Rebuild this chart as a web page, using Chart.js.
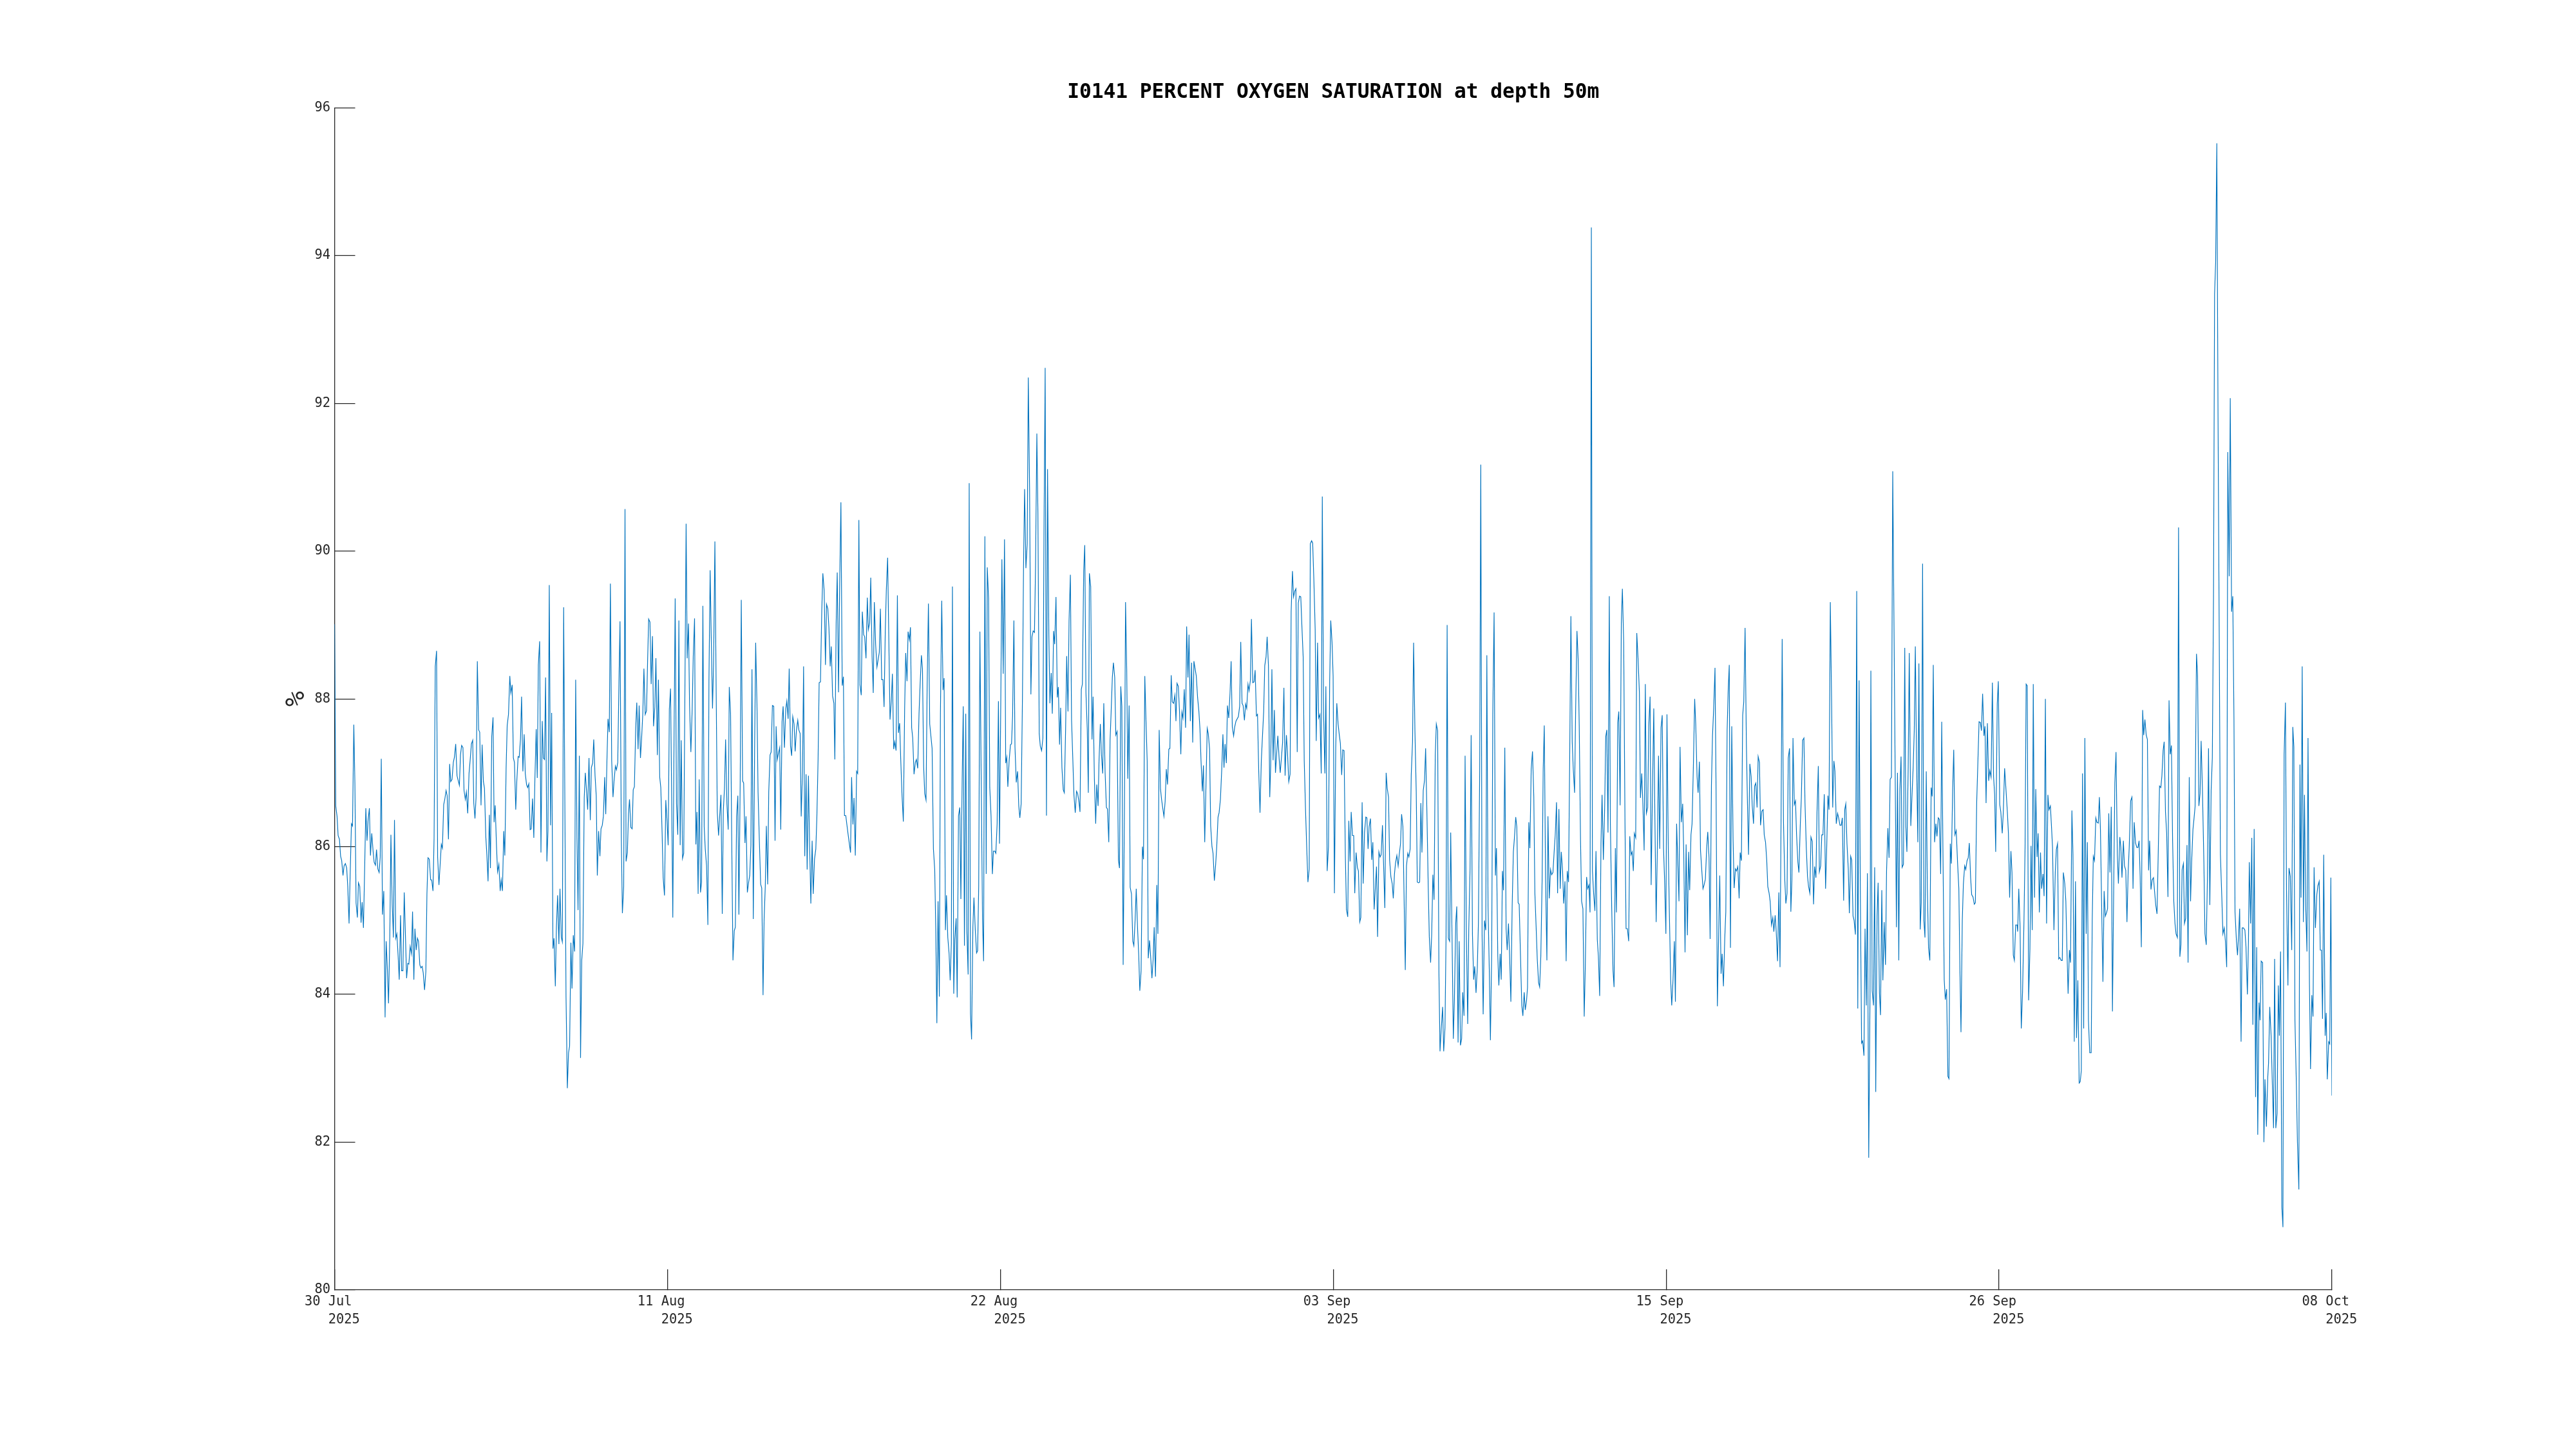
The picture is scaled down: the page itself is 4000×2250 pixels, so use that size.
<!DOCTYPE html>
<html>
<head>
<meta charset="utf-8">
<title>I0141 PERCENT OXYGEN SATURATION at depth 50m</title>
<script src="https://cdn.jsdelivr.net/npm/chart.js@4/dist/chart.umd.min.js"></script>
<style>
  html, body { margin: 0; background: #fff; }
  canvas { display: block; }
</style>
</head>
<body>
<canvas id="oxygenChart" width="4000" height="2250"></canvas>
<script>
// Hours since 30 Jul 2025 and oxygen saturation (%) in blocks
const hours1 = [0,1,2.1,3,4.1,5.1,6,7.1,8,9.1,10.2,11.1,12.2,13.1,14.2,15.1,16.2,17.1,18.1,19.2,20.1,21.2,22.3,23.2,24.3,25.2,26.3,27.3,28.2,29.3,30.2,31.3,32.4,33.3,34.4,35.3,36.4,37.5,38.4,39.3,
  40.3,41.4,42.5,43.4,44.5,45.4,46.5,47.4,48.5,49.5,50.4,51.5,52.4,53.5,54.4,55.5,56.4,57.5,58.6,59.6,60.6,61.6,62.5,63.6,64.7,65.6,66.7,67.6,68.7,69.7,70.6,71.7,72.6,73.7,74.6,75.7,76.8,77.7,78.6,79.7,
  80.8,81.7,82.8,83.7,84.7,85.8,86.7,87.8,89.8,90.7,91.8,92.7,93.8,94.7,95.8,96.8,97.7,98.8,99.9,100.8,101.9,103,103.9,105,105.9,106.9,108,108.9,110,110.9,112,113.1,114,115.1,116.2,117.1,118.1,119,120.1,121.2,
  122.1,123.2,124.1,125.2,126.1,127.2,128.1,129.1,130.2,131.1,132.2,133.3,134.2,135.1,136.2,137.1,138.2,139.3,140.2,141.2,142.3,143.2,144.3,145.2,146.3,147.4,148.3,149.4,150.4,151.3,152.4,153.3,154.4,155.3,156.4,157.3,158.4,159.5,160.4,161.5,
  162.4,163.4,164.5,165.4,166.5,167.6,168.5,169.6,170.5,171.4,172.5,173.6,174.7,175.6,176.6,177.5,178.6,179.5,180.6,181.7,182.6,183.7,184.6,185.7,186.6,187.6,188.7,189.6,190.7,191.6,192.7,193.8,194.7,195.8,196.8,197.7,198.8,199.7,200.8,201.9,
  202.8,203.9,204.8,205.9,206.9,207.9,208.9,210,210.9,212,212.9,214,215.1,216,217.1,218,219.1,220.1,221,222.1,223.2,224.1,225.2,226.1,227.2,228.1,229.1,230,231.1,232,233.1,234.2,235.1,236.2,237.1,238.2,239.2,240.1,241.2,242.1,
  243.2,244.3,245.2,246.3,247.2,248.1,249.2,250.3,251.2,252.2,253.3,254.2,255.3,256.2,257.3,258.4,259.3,260.2,261.3,262.4,263.3,264.2,265.3,266.3,267.4,268.3,269.4,270.3];
const oxygen1 = [89.01,86.55,86.41,86.15,86.10,85.87,85.81,85.61,85.74,85.77,85.71,85.46,84.96,85.61,86.31,86.28,87.65,86.86,85.24,85.04,85.51,85.46,84.97,85.25,84.90,85.61,86.52,86.08,86.36,86.52,85.88,86.18,85.94,85.79,85.75,85.96,85.70,85.65,85.86,87.19,
  85.08,85.40,83.69,84.72,84.31,83.88,84.81,86.16,85.21,84.77,86.36,84.76,84.82,84.51,84.20,85.07,84.32,84.32,85.38,84.81,84.22,84.42,84.41,84.65,84.55,85.12,84.20,84.89,84.60,84.76,84.72,84.40,84.36,84.38,84.29,84.06,84.31,85.36,85.85,85.83,
  85.55,85.55,85.40,86.11,88.44,88.65,85.86,85.48,86.03,85.98,86.57,86.64,86.76,86.69,86.10,87.12,86.88,86.91,87.14,87.21,87.39,86.96,86.90,86.83,87.24,87.37,87.34,86.76,86.64,86.74,86.45,86.99,87.16,87.39,87.44,86.59,86.38,86.66,88.51,87.58,
  87.55,86.56,87.38,86.88,86.79,86.14,85.89,85.53,86.43,85.71,87.49,87.75,86.33,86.56,86.01,85.66,85.76,85.40,85.55,85.40,86.21,85.88,87.06,87.64,87.79,88.31,88.08,88.19,87.20,87.14,86.50,86.89,87.22,87.21,87.46,88.03,87.02,87.52,86.99,86.84,
  86.80,86.85,86.23,86.24,86.65,86.12,86.91,87.59,86.93,88.46,88.78,85.92,87.70,87.20,87.18,88.29,85.80,86.21,89.54,86.29,87.81,84.62,84.76,84.11,84.91,85.34,84.68,85.43,84.77,84.71,89.24,86.36,83.96,82.73,83.21,83.30,84.70,84.08,84.80,84.58,
  88.26,86.11,85.14,87.23,83.14,84.46,84.69,86.66,87.00,86.74,86.50,87.20,86.36,87.07,87.13,87.45,86.96,86.69,85.61,86.21,85.87,86.24,86.29,86.41,86.94,86.44,87.16,87.73,87.55,89.56,87.16,86.67,86.89,87.09,87.04,87.14,88.21,89.05,86.11,85.10,
  85.46,90.57,85.80,85.92,86.44,86.64,86.26,86.24,86.77,86.81,87.61,87.95,87.32,87.91,87.20,87.51,87.81,88.41,87.79,87.84,88.51,89.08,89.04,88.20,88.85,87.63,87.89,88.55];

const hours2 = [271.5,272.4,273.5,274.4,275.5,276.4,277.5,278.6,279.7,280.6,281.6,282.6,283.6,284.5,285.6,286.5,287.6,288.7,289.6,290.7,291.6,292.7,293.7,294.6,295.7,296.6,297.7,298.6,299.7,300.8,301.7,302.8,303.9,304.8,305.8,306.7,307.8,308.7,309.8,310.9,
  311.8,312.9,314,314.9,315.9,316.8,317.9,318.8,319.9,321,321.9,323,323.9,325,326.1,327,328,328.9,330,331.1,332,333.1,334,335.1,336.2,337.1,338.2,339.2,340.1,341.2,342.1,343.2,344.1,345.2,346.1,347.2,348.3,349.2,350.2,351.1,
  352.2,353.3,354.2,355.3,356.2,357.3,358.4,359.3,360.4,361.3,362.3,363.2,364.3,365.2,366.3,367.2,368.3,369.4,370.5,371.4,372.4,373.3,374.4,375.3,376.4,377.3,378.4,379.5,380.4,381.5,382.4,383.5,384.5,385.4,386.5,387.4,388.5,389.6,390.5,391.6,
  392.5,393.6,394.5,395.5,396.6,397.5,398.6,399.5,400.6,401.7,402.6,403.7,404.8,405.7,406.7,407.6,408.7,409.8,410.7,411.8,412.9,413.8,414.9,415.8,416.9,417.8,418.9,420,420.8,421.9,422.8,423.9,424.8,425.9,427,428,428.9,430,430.9,432,
  432.9,434,434.9,436,436.9,438,439.1,440,441,441.9,443,443.9,445,445.9,447,448.1,449,450.1,451,452.1,453.1,454,455.1,456.2,457.1,458.2,459.1,460.2,461.3,462.2,463.2,464.1,465.2,466.3,467.2,468.3,469.2,470.3,471.2,472.3,
  473.4,474.3,475.3,476.2,477.3,478.4,479.5,480.4,481.5,482.4,483.5,484.4,485.4,486.3,487.4,488.5,489.4,490.5,491.6,492.5,493.6,494.5,495.5,496.4,497.5,498.4,499.5,500.6,502.6,503.7,504.8,505.7,506.6,507.6,508.7,509.6,510.7,511.8,512.7,513.8,
  514.7,515.8,516.9,517.8,518.8,519.7,520.8,521.7,522.8,523.7,524.8,525.9,526.8,527.9,528.8,529.8,530.9,531.8,532.9,533.8,534.9,535.8,536.9,537.8,538.9,540,540.9,541.8,542.8,543.9,545,545.9,547,548.1,549,550.1,551.1,552.2];
const oxygen2 = [87.24,88.26,86.94,86.80,86.19,85.58,85.34,86.63,86.33,86.02,87.86,88.14,86.58,85.04,87.58,89.36,86.58,86.16,89.06,86.02,87.44,85.84,85.91,87.91,90.37,88.55,89.02,87.91,87.28,87.86,88.58,89.09,86.03,86.47,85.36,86.91,85.38,85.52,89.26,86.27,
  85.97,85.74,84.94,88.24,89.74,88.86,87.87,88.47,90.13,88.08,86.47,86.15,86.41,86.70,85.09,86.49,86.80,87.45,86.58,86.23,88.16,87.80,86.19,84.46,84.86,84.91,86.41,86.69,85.08,86.91,89.34,86.89,86.86,86.05,86.41,85.38,85.52,85.61,86.02,88.40,
  85.02,87.30,88.76,87.91,86.74,86.08,85.49,85.44,83.99,85.02,85.47,86.28,85.49,86.74,87.24,87.28,87.91,87.90,86.08,87.63,87.18,87.26,87.34,86.23,87.69,87.90,87.34,87.86,87.97,87.73,88.41,87.36,87.23,87.76,87.66,87.29,87.58,87.71,87.58,87.53,
  86.41,87.02,88.44,85.87,86.98,85.69,86.96,86.08,85.23,86.08,85.36,85.83,85.97,86.41,87.19,88.22,88.23,89.19,89.70,89.47,88.46,89.28,89.22,88.97,88.44,88.71,88.04,87.94,87.18,89.02,89.71,88.09,89.47,90.66,88.18,88.30,86.42,86.42,86.30,86.16,
  86.05,85.92,86.94,86.30,86.66,85.88,87.02,86.99,90.42,88.19,88.05,89.18,88.87,88.84,88.55,89.37,88.94,89.03,89.64,88.58,88.08,89.31,88.74,88.43,88.52,88.63,89.22,88.26,88.26,87.89,88.91,89.47,89.91,88.69,87.72,87.97,88.34,87.32,87.42,87.30,
  89.40,87.54,87.67,87.19,86.69,86.34,87.86,88.62,88.24,88.91,88.80,88.97,87.61,87.47,86.98,87.14,87.18,87.06,87.80,88.19,88.59,88.41,87.08,86.72,86.63,88.13,89.29,87.66,87.33,85.97,85.69,84.86,83.61,85.26,83.97,87.80,89.33,88.12,88.28,84.87,
  85.34,84.77,84.55,84.19,84.69,89.52,84.01,84.74,85.03,83.96,86.42,86.53,85.29,86.91,87.90,84.66,87.80,84.88,84.27,90.92,83.74,83.39,84.91,85.31,84.88,84.56,84.59,85.47,88.91,86.91,85.02,84.45,90.20,85.63,89.78,89.36,86.80,86.41];

const hours3 = [553.3,554.2,555.3,556.2,557.3,558.4,559.3,560.4,561.3,562.4,563.5,564.5,565.4,566.3,567.4,568.5,569.4,570.3,571.4,572.3,573.4,574.5,575.5,576.4,577.5,578.6,579.5,580.4,581.5,582.6,583.5,584.6,585.7,586.6,587.6,588.7,589.6,590.7,591.6,592.7,
  593.6,594.7,595.8,596.7,597.7,598.8,599.7,600.8,601.7,602.8,603.7,604.8,605.7,606.8,607.9,608.8,609.8,610.7,611.8,612.9,613.8,614.9,615.8,616.9,617.8,618.9,619.9,621,621.9,623,624.1,625,626.1,627,628.1,629,630.1,631,632,633.1,
  634,634.9,636,637.1,638,639.1,640.2,641.1,642.2,643,644.1,645,646.1,647,648.1,649.2,650.1,651.2,652.3,653.2,654.2,655.1,656.2,657.1,658.2,659.3,660.2,661.3,662.2,663.3,664.4,665.3,666.3,667.2,668.3,669.2,670.3,671.4,672.3,673.4,
  674.3,675.4,676.4,677.3,678.4,679.5,680.4,681.5,682.6,683.5,684.4,685.5,686.6,687.5,688.5,689.4,690.5,691.6,692.5,693.6,694.7,695.6,696.7,697.6,698.6,699.6,700.6,701.7,702.6,703.7,704.6,705.7,706.8,707.7,708.6,709.7,710.7,711.8,712.7,713.6,
  714.7,715.8,716.7,717.8,718.7,719.8,720.9,721.8,722.8,723.7,724.8,725.9,727,727.9,728.8,729.9,730.8,731.9,733,734,734.9,736,736.9,738,738.9,740,741.1,742,743.1,744,745.1,746.2,747.2,748.1,749,750.1,751,752.1,753.2,754.1,
  755.1,756.2,757.1,758.2,760.2,761.3,762.2,763.3,764.2,765.3,766.3,767.2,768.3,769.2,770.3,771.2,772.3,773.4,774.3,775.4,776.3,777.3,778.4,779.5,780.4,781.5,782.4,783.5,784.4,785.5,786.6,787.4,788.4,789.4,790.5,791.4,792.5,793.4,794.5,795.4,
  796.5,797.4,798.5,799.5,800.6,801.5,802.6,803.7,804.6,805.7,806.6,807.7,808.6,809.7,810.6,811.7,812.7,813.6,814.7,815.6,816.7,817.8,818.7,819.8,820.7,821.8,822.7,823.7,824.8,825.7,826.8,827.7,828.8,829.9,830.8,831.9,833,833.8];
const oxygen3 = [85.63,85.94,85.94,85.91,86.31,87.97,86.04,88.02,89.89,88.34,90.16,87.13,87.21,86.81,87.16,87.38,87.39,87.77,89.06,87.35,86.87,87.02,86.55,86.39,86.58,88.02,89.79,90.84,89.77,90.10,92.35,90.83,88.06,88.84,88.92,88.90,89.79,91.59,90.52,87.53,
  87.36,87.30,87.47,90.22,92.48,86.42,91.11,88.87,87.94,88.35,87.80,88.92,88.74,89.38,88.02,88.16,87.38,87.88,87.07,86.77,86.73,87.59,88.58,87.83,89.06,89.68,87.71,87.16,86.70,86.46,86.75,86.72,86.61,86.47,88.13,88.20,89.73,90.08,88.08,87.59,
  86.73,89.70,89.52,87.45,88.03,86.92,86.31,86.84,86.55,87.16,87.66,87.25,86.99,87.94,87.01,86.53,86.51,86.06,87.44,87.83,88.29,88.49,88.29,87.51,87.56,85.82,85.71,88.17,87.90,84.40,86.55,89.31,88.39,86.92,87.91,85.45,85.36,84.72,84.66,85.02,
  85.43,84.90,84.53,84.05,84.32,86.00,85.83,88.31,87.65,87.16,84.49,84.73,84.47,84.22,84.47,84.91,84.24,85.48,84.82,87.58,86.78,86.64,86.51,86.41,86.61,87.05,86.84,87.32,87.33,88.32,87.96,87.94,88.05,87.70,88.21,88.17,87.83,87.25,87.82,87.74,
  88.13,87.61,88.98,88.29,88.87,87.70,88.49,87.41,88.51,88.42,88.31,88.02,87.83,87.59,87.16,86.75,87.10,86.06,86.86,87.60,87.53,87.32,86.28,86.00,85.91,85.54,85.76,86.00,86.40,86.46,86.64,87.04,87.52,87.07,87.39,87.13,87.91,87.74,88.08,88.51,
  87.62,87.50,87.62,87.70,87.76,87.90,88.77,87.94,87.91,87.71,87.93,87.87,88.20,88.11,88.25,89.08,88.22,88.23,88.39,87.77,87.79,87.04,86.46,87.16,87.47,87.83,88.45,88.57,88.84,88.45,86.67,87.10,88.40,87.17,87.85,87.00,87.28,87.50,87.19,87.00,
  87.22,87.41,88.15,86.96,87.51,87.28,86.88,86.98,89.18,89.73,89.38,89.46,89.49,87.28,89.30,89.39,89.38,89.00,88.57,87.16,86.49,85.94,85.52,85.70,90.10,90.14,90.11,89.61,88.94,87.43,88.76,87.74,87.79,86.99,90.74,87.77,86.99,88.17];

const hours4 = [834.9,836,837,837.9,839,839.9,841,842.1,843,844.1,845.1,846,847.1,848,849.1,850.2,851.1,852.2,853.1,854.2,855.1,856.2,857.2,858.1,859.2,860.3,861.2,862.3,863.2,864.3,865.2,866.3,867.4,868.3,869.3,870.2,871.3,872.4,873.3,874.4,
  875.3,876.4,877.3,878.4,879.4,880.3,881.4,882.3,883.4,884.5,885.4,886.5,887.4,888.5,889.6,890.5,891.5,892.4,893.5,894.6,895.5,896.6,897.5,898.6,899.7,900.6,901.6,902.7,903.6,904.7,905.6,906.7,907.6,908.7,909.8,910.7,911.8,912.7,913.7,914.6,
  915.7,916.8,917.7,918.8,919.9,920.8,921.9,922.8,923.8,924.8,925.8,926.7,927.8,928.9,929.8,930.9,932,932.9,934,934.9,935.8,936.8,937.9,938.8,939.9,941,941.9,943,943.9,945,945.9,947,948,948.9,950,950.9,952,953.1,954,955.1,
  956,957.1,958.1,959,960.1,961.2,962.1,963.2,964.1,965.2,966.1,967.2,968.3,969.2,970.2,971.3,972.2,973.3,974.2,975.3,976.4,977.3,978.4,979.3,980.4,981.3,982.3,983.2,984.3,985.4,986.3,987.4,988.3,989.4,990.5,991.5,992.4,993.5,994.4,995.5,
  996.4,997.5,998.6,999.5,1000.6,1001.5,1002.6,1003.4,1004.5,1005.4,1006.5,1007.6,1008.7,1009.6,1010.7,1011.6,1012.7,1013.6,1014.6,1015.7,1016.6,1017.5,1018.6,1019.7,1020.6,1021.7,1022.8,1023.7,1024.8,1025.8,1026.7,1027.8,1028.7,1029.8,1030.9,1031.8,1032.9,1033.8,1034.9,1035.9,
  1036.8,1037.9,1038.8,1039.9,1041,1041.9,1043,1043.9,1045,1046,1046.9,1048,1048.9,1050,1051.1,1052,1053.1,1054,1055.1,1056,1057.1,1058,1059,1060.1,1061,1062.1,1063,1064.1,1065.2,1066.1,1067.2,1068.3,1069.2,1070.1,1071.1,1072.2,1073.1,1074.2,1075.3,1076.2,
  1077.3,1078.2,1079.3,1080.2,1081.3,1082.3,1083.2,1084.3,1085.4,1086.3,1087.4,1088.5,1089.4,1090.5,1091.4,1092.4,1093.3,1094.4,1095.3,1096.4,1097.5,1098.4,1099.5,1100.4,1101.5,1102.5,1103.4,1104.5,1105.4,1106.5,1107.4,1108.5,1109.6,1110.5,1111.6,1112.5,1113.6,1114.6,1115.7];
const oxygen4 = [85.67,86.00,88.24,89.06,88.76,88.31,85.37,87.34,87.94,87.66,87.51,87.40,86.97,87.31,87.30,85.86,85.15,85.05,86.35,85.80,86.47,86.15,86.15,85.37,85.92,85.72,85.67,84.98,85.04,86.60,85.50,86.19,86.40,86.39,85.97,86.27,86.38,85.82,86.06,85.15,
  85.41,85.73,84.78,85.93,85.86,85.89,86.29,85.78,85.17,87.00,86.79,86.67,85.82,85.59,85.50,85.30,85.63,85.78,85.88,85.74,85.89,86.04,86.44,86.27,85.19,84.33,85.74,85.91,85.86,85.97,86.97,87.42,88.76,87.57,86.75,85.52,85.51,85.52,86.59,85.92,
  86.76,86.90,87.33,86.45,85.45,84.78,84.43,84.81,85.62,85.28,87.23,87.66,87.57,84.29,83.23,83.55,83.83,83.23,83.55,84.81,89.00,84.76,84.72,86.19,84.81,83.40,83.92,84.96,85.19,83.35,84.72,83.31,83.40,84.03,83.71,87.23,84.81,83.60,84.89,85.71,
  87.51,84.81,84.20,84.38,84.02,84.37,84.96,87.05,91.17,84.81,83.73,85.00,84.87,88.59,85.19,84.29,83.38,84.59,87.79,89.17,85.61,85.98,84.52,84.12,84.55,84.20,85.67,85.41,87.34,84.89,84.60,84.96,84.55,83.90,85.19,85.93,86.12,86.40,86.27,85.24,
  85.22,84.52,83.85,83.71,84.03,83.79,83.92,84.09,86.33,85.98,87.05,87.29,86.67,85.37,84.89,84.48,84.16,84.10,84.52,85.56,87.05,87.64,85.56,84.46,86.41,85.30,85.69,85.62,85.65,85.93,86.15,86.60,85.37,86.51,85.43,85.93,85.67,85.23,85.53,84.45,
  85.67,85.52,87.05,89.12,87.42,87.05,86.73,87.87,88.92,88.54,87.64,86.08,85.26,85.16,83.70,84.37,85.59,85.43,85.48,85.11,94.38,85.67,85.37,85.13,85.94,84.74,84.52,83.98,86.04,86.70,85.82,86.53,87.49,87.58,86.19,89.39,86.30,85.19,84.33,84.10,
  85.98,85.11,87.68,87.83,86.56,89.02,89.49,88.76,86.30,84.89,84.89,84.72,86.14,85.89,85.93,85.67,86.18,86.12,88.89,88.54,88.09,86.66,86.99,86.60,85.95,88.20,86.45,86.53,87.64,88.03,85.48,86.75,87.87,86.45,84.98,85.86,87.23,85.97,87.61];

const hours5 = [1116.7,1117.8,1118.7,1119.8,1120.7,1121.8,1122.7,1123.8,1124.7,1125.8,1126.9,1127.8,1128.8,1129.7,1130.8,1131.7,1132.8,1133.9,1134.8,1135.9,1136.8,1137.9,1138.9,1139.8,1140.9,1141.8,1142.9,1144,1144.9,1146,1146.9,1148,1148.9,1149.9,1151,1151.9,1153,1154.1,1155,1156.1,
  1157,1158.1,1159,1160,1161.1,1162,1163.1,1164.2,1165.1,1166.2,1167.1,1168.2,1169.3,1170.2,1171.3,1172.2,1173.1,1174.1,1175.2,1176.3,1177.2,1178.3,1179.2,1180.3,1181.4,1182.3,1183.3,1184.4,1185.3,1186.4,1187.5,1188.4,1189.3,1190.4,1191.5,1192.4,1193.5,1194.4,1195.4,1196.5,
  1197.4,1198.5,1199.4,1200.5,1201.6,1202.5,1203.6,1204.6,1205.5,1206.6,1207.5,1208.6,1209.7,1210.6,1211.7,1212.6,1213.7,1214.8,1215.8,1216.7,1217.6,1218.7,1219.8,1220.7,1221.7,1222.7,1223.8,1224.9,1225.8,1226.7,1227.8,1228.8,1229.7,1230.8,1231.7,1232.8,1233.7,1234.8,1235.9,1236.8,
  1237.9,1238.9,1239.8,1240.9,1241.8,1242.9,1244,1244.9,1246,1246.9,1248,1248.9,1250,1250.9,1251.9,1253,1254.1,1255,1256.1,1257,1258.1,1259.2,1260.1,1261.1,1262,1263.1,1264.2,1265.1,1266.2,1267.3,1268.2,1269.3,1270.2,1271.1,1272.1,1273.2,1274.1,1275.2,1276.1,1277.2,
  1278.1,1279.2,1280.3,1281.2,1282.3,1283.4,1284.4,1285.3,1286.4,1287.3,1288.4,1289.3,1290.4,1291.5,1292.2,1293.3,1294.4,1295.4,1296.3,1297.4,1298.3,1299.4,1300.3,1301.4,1302.3,1303.4,1304.5,1305.4,1306.5,1307.5,1308.4,1309.5,1310.6,1311.7,1312.6,1313.7,1314.6,1315.7,1316.6,1317.6,
  1318.5,1319.6,1320.7,1321.6,1322.5,1323.6,1324.5,1325.8,1326.7,1327.8,1328.7,1329.6,1330.6,1331.7,1332.6,1333.7,1334.6,1335.7,1336.8,1337.7,1338.8,1339.7,1340.7,1341.8,1342.9,1343.8,1344.7,1345.8,1346.9,1347.8,1348.9,1349.8,1350.9,1351.8,1352.8,1353.9,1354.8,1355.9,1357,1357.9,
  1359,1359.9,1361,1361.9,1362.9,1364,1365.1,1366.2,1367.1,1368,1369.1,1370,1371.1,1372,1373.1,1374.1,1375,1376.1,1377,1378.1,1379.2,1380.1,1381.2,1382.1,1383.2,1384.3,1385.2,1386.2,1387.3,1388.2,1389.1,1390.2,1391.3,1392.2,1393.3,1394.4,1395.4,1396.3,1397.2];
const oxygen5 = [87.78,85.98,85.55,84.82,87.79,85.98,85.12,84.20,83.85,84.20,84.72,83.90,86.31,85.85,85.26,87.35,86.33,86.58,85.92,84.57,86.03,84.80,85.93,85.41,86.16,86.31,87.08,88.00,87.66,86.95,86.73,87.15,85.95,85.70,85.43,85.48,85.56,85.98,86.20,85.85,
  84.75,86.83,87.50,87.87,88.42,86.77,83.84,84.82,85.61,84.28,84.55,84.11,84.75,85.12,87.57,88.12,88.46,84.63,87.63,86.10,85.44,85.70,85.67,85.73,85.30,85.92,85.81,87.78,87.96,88.96,87.38,86.59,85.89,87.12,86.95,86.56,86.31,86.82,86.86,86.53,
  87.22,87.14,86.29,86.48,86.50,86.16,86.06,85.82,85.46,85.37,85.26,84.94,85.04,84.85,85.07,84.85,84.45,85.38,84.37,86.47,88.81,86.34,85.55,85.23,85.37,87.20,87.33,85.12,85.55,87.47,86.57,86.62,86.16,85.79,85.65,86.28,86.65,87.44,87.47,86.59,
  85.98,85.60,85.46,85.37,86.13,86.07,85.22,85.73,85.58,86.47,87.09,85.66,85.74,86.16,86.16,86.71,85.43,85.95,86.69,86.50,89.31,87.93,86.53,87.16,87.02,86.31,86.45,86.39,86.29,86.29,86.39,85.27,86.50,86.58,86.04,85.70,85.10,85.87,85.82,85.06,
  85.00,84.81,89.46,83.81,88.25,85.24,83.34,83.37,83.17,84.89,83.85,85.64,81.79,84.02,88.38,84.05,83.85,85.72,82.68,85.06,85.51,84.02,83.72,85.41,84.19,84.98,84.40,85.67,86.25,85.85,86.91,86.94,91.08,88.91,87.08,84.91,87.00,84.46,86.77,87.22,
  85.72,85.76,88.69,86.28,85.93,87.08,88.62,86.28,86.65,87.08,87.57,88.71,87.20,86.06,88.48,84.88,85.24,89.83,85.00,84.77,87.02,85.43,84.63,84.46,86.80,86.68,88.46,86.06,86.31,86.14,86.39,86.37,85.63,87.69,85.98,84.20,83.93,84.07,82.89,82.86,
  86.04,85.77,86.77,87.31,86.16,86.22,85.79,85.43,84.33,83.49,85.00,85.49,85.74,85.69,85.81,85.85,86.05,85.58,85.35,85.32,85.22,85.24,86.59,87.08,87.69,87.68,87.57,88.07,87.50,87.63,86.59,87.67,86.89,87.03,86.94,88.22,86.95,86.71,85.93];

const hours6 = [1398.5,1399.4,1400.6,1401.5,1402.7,1403.6,1404.7,1405.9,1407,1407.9,1408.9,1410,1410.9,1412,1412.9,1414,1415.2,1415.7,1416.6,1417.7,1418.7,1419.8,1421,1421.9,1422.8,1423.7,1424.9,1426,1426.9,1427.9,1428.8,1429.9,1430.9,1432,1432.9,1433.9,1434.9,1435.8,1437,1437.9,
  1439,1440,1441.1,1442,1443.2,1444.1,1445,1446.2,1447.3,1448.2,1449.2,1450.2,1451.1,1452.3,1453.2,1454.1,1455.3,1456.2,1457.1,1458.1,1459.2,1460.1,1461.3,1462.2,1463.3,1464.3,1465.2,1466.3,1467.4,1468.3,1469.2,1470.2,1471.2,1472.2,1473.3,1474.3,1475.2,1476.3,1477.5,1478.4,
  1479.3,1480.3,1481.4,1482.3,1483.5,1484.4,1485.3,1486.5,1487.4,1488.4,1489.4,1490.5,1491.3,1492.3,1493.3,1494.4,1495.4,1496.5,1497.4,1498.4,1499.5,1500.4,1501.6,1502.5,1503.4,1504.6,1505.5,1506.6,1507.6,1508.6,1509.5,1510.7,1511.8,1512.7,1513.7,1514.8,1515.9,1516.9,1517.8,1518.7,
  1519.7,1520.8,1521.7,1522.7,1523.8,1524.8,1525.8,1526.7,1527.8,1528.8,1529.9,1530.8,1531.8,1532.9,1534,1535,1536.1,1537,1538,1538.9,1540,1541,1542.1,1543,1544,1545,1546,1547,1548,1548.9,1550,1551,1552.1,1553,1554,1555.1,1556,1557,1558.1,1559,
  1560,1561.1,1562,1563.1,1564,1564.9,1566.1,1567,1568.1,1569.1,1570,1571.1,1572.3,1573.2,1574.3,1575.3,1576.2,1577.3,1578.4,1579.4,1580.4,1581.3,1582.2,1583.2,1584.2,1585.2,1586.2,1587.4,1588.3,1589.4,1590.4,1591.5,1592.4,1593.6,1594.5,1595.6,1596.6,1597.6,1598.5,1599.7,
  1600.6,1601.7,1602.4,1603.6,1604.5,1605.6,1606.8,1607.7,1608.9,1609.8,1610.5,1611.6,1612.6,1613.5,1614.6,1615.8,1616.7,1617.6,1618.7,1619.6,1620.5,1621.7,1622.8,1623.7,1624.9,1626,1626.7,1627.7,1628.8,1629.9,1630.9,1631.8,1632.8,1633.9,1634.9,1635.8,1636.8,1637.9,1638.8,1639.8,
  1640.9,1641.8,1643,1643.9,1645,1646.2,1647.1,1648,1648.9,1650.1,1651,1652.2,1653.1,1654,1655,1656,1656.9,1657.9,1659,1659.9,1661.1,1662,1663.1,1664.1,1665,1666.1,1667.3,1668.2,1669.3,1670.2,1671.2,1672.1,1673.1,1674.3,1675.2,1676.1,1677.3,1678.2,1679.1,1680];
const oxygen6 = [87.93,88.24,86.57,86.47,86.18,86.47,87.06,86.76,86.47,86.18,85.31,85.94,85.65,84.53,84.46,84.94,84.94,84.85,85.43,84.92,83.54,84.04,85.01,85.99,88.20,88.18,83.92,84.62,86.01,84.87,88.20,85.31,86.78,85.86,86.18,85.11,85.92,85.43,85.63,85.33,
  88.00,84.96,86.70,86.50,86.55,86.28,85.99,84.87,85.65,85.96,86.04,84.48,84.50,84.46,84.46,85.65,85.50,85.26,84.62,84.01,84.60,84.43,86.49,85.89,83.36,85.53,83.41,84.19,82.80,82.82,82.97,86.99,83.54,87.47,84.82,86.06,83.65,83.21,83.21,85.01,
  85.87,85.81,86.39,86.33,86.32,86.67,86.23,85.01,84.17,85.40,85.06,85.11,85.16,86.45,85.65,86.54,83.77,85.50,86.86,87.28,85.89,85.50,86.13,85.99,85.58,86.08,85.74,85.68,84.98,85.65,85.99,86.62,86.67,85.43,86.33,86.05,85.99,85.99,86.08,85.60,
  84.64,87.85,87.51,87.72,87.51,87.45,85.68,86.08,85.42,85.55,85.58,85.40,85.21,85.09,85.99,86.82,86.80,86.96,87.30,87.42,86.47,86.18,85.32,87.98,87.25,87.37,86.08,85.26,84.96,84.82,84.77,90.32,84.51,84.67,85.69,85.77,84.96,85.03,86.02,84.43,
  86.94,85.26,85.79,86.23,86.38,86.54,88.61,88.32,86.55,86.72,87.43,86.76,85.79,84.82,84.67,85.60,87.33,85.21,86.76,87.20,89.39,93.48,93.91,95.52,91.82,88.90,85.89,85.31,84.82,84.90,84.72,84.37,91.34,89.66,92.07,89.18,89.39,87.74,85.11,84.72,
  84.53,84.87,85.16,83.36,84.90,84.90,84.87,84.65,84.00,84.72,85.79,84.96,86.12,83.59,86.24,82.61,84.64,82.10,83.89,83.65,84.45,84.43,82.00,82.85,82.21,82.87,83.07,83.83,83.46,82.78,82.19,84.48,82.19,82.39,84.12,83.44,84.58,81.12,80.85,87.25,
  87.95,85.40,84.12,85.71,85.60,84.60,87.62,87.35,83.65,82.78,82.00,81.36,87.11,85.31,88.44,84.98,86.70,85.21,84.58,87.47,84.14,82.99,83.99,83.70,85.72,84.90,85.35,85.47,85.53,84.60,84.60,83.67,85.89,83.44,83.75,82.85,83.36,83.33,85.58,82.63];

const tickHours = [0, 280, 560, 840, 1120, 1400, 1680];
const tickDates = ['30 Jul  ', '11 Aug  ', '22 Aug  ', '03 Sep  ', '15 Sep  ', '26 Sep  ', '08 Oct  '];
const tickYear = '   2025 ';

const hours = [...hours1, ...hours2, ...hours3, ...hours4, ...hours5, ...hours6];
const oxygen = [...oxygen1, ...oxygen2, ...oxygen3, ...oxygen4, ...oxygen5, ...oxygen6];
if (hours.length !== oxygen.length) throw new Error('hours/oxygen mismatch ' + hours.length + ' ' + oxygen.length);

const mono = "'DejaVu Sans Mono', monospace";
const axisColor = '#262626';

new Chart(document.getElementById('oxygenChart'), {
    type: 'line',
    data: {
        datasets: [{
            data: hours.map((h, i) => ({ x: h, y: oxygen[i] })),
            borderColor: '#0072BD',
            borderWidth: 1.15,
            pointRadius: 0,
            tension: 0,
            fill: false
        }]
    },
    options: {
        responsive: false,
        animation: false,
        layout: { padding: { left: 0, right: 379, top: 0, bottom: 0 } },
        plugins: {
            legend: { display: false },
            tooltip: { enabled: false },
            title: {
                display: true,
                fullSize: false,
                text: 'I0141 PERCENT OXYGEN SATURATION at depth 50m',
                color: '#000',
                font: { family: mono, size: 31.2, weight: 'bold', lineHeight: 1.2 },
                padding: { top: 125, bottom: 5 }
            }
        },
        scales: {
            x: {
                type: 'linear',
                min: 0,
                max: 1680,
                afterFit: s => { s.height = 247; },
                afterBuildTicks: s => { s.ticks = tickHours.map(v => ({ value: v })); },
                border: { color: axisColor, width: 1.3 },
                grid: { drawOnChartArea: false, tickLength: -32, color: axisColor, lineWidth: 1.3 },
                ticks: {
                    autoSkip: false,
                    maxRotation: 0,
                    minRotation: 0,
                    padding: 37,
                    labelOffset: 2.5,
                    color: axisColor,
                    font: { family: mono, size: 20.4, lineHeight: 1.37 },
                    callback: (v, i) => [tickDates[i], tickYear]
                }
            },
            y: {
                min: 80,
                max: 96,
                afterFit: s => { s.width = 519.5; },
                border: { color: axisColor, width: 1.3 },
                grid: { drawOnChartArea: false, tickLength: -32, color: axisColor, lineWidth: 1.3 },
                title: {
                    display: true,
                    text: '%',
                    color: axisColor,
                    font: { family: mono, size: 40, lineHeight: 1.2 },
                    padding: { top: 438, bottom: 0 }
                },
                ticks: {
                    stepSize: 2,
                    padding: 38.5,
                    color: axisColor,
                    font: { family: mono, size: 20.4 }
                }
            }
        }
    }
});
</script>
</body>
</html>
